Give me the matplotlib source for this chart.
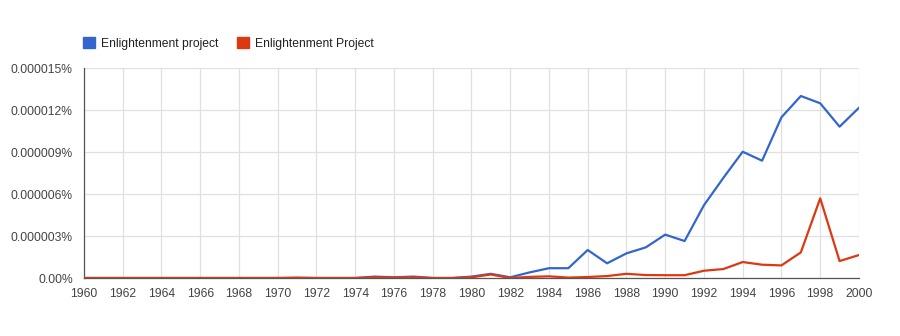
import matplotlib
matplotlib.use("Agg")
import matplotlib.pyplot as plt
from matplotlib.patches import Patch

plt.rcParams['font.family'] = ['Liberation Sans', 'DejaVu Sans']

years = list(range(1960, 2001))

# frequency, in units of 1e-6 percent
lower_case = [0, 0, 0, 0, 0, 0, 0, 0, 0, 0,
              0, 0, 0, 0, 0, 0.1, 0.05, 0.1, 0, 0,
              0.1, 0.3, 0.05, 0.4, 0.7, 0.7, 2.0, 1.05, 1.76, 2.19,
              3.1, 2.64, 5.2, 7.15, 9.02, 8.38, 11.48, 13.0, 12.48, 10.81,
              12.16]
upper_case = [0, 0, 0, 0, 0, 0, 0, 0, 0, 0,
              0, 0.03, 0, 0, 0, 0.05, 0.03, 0.05, 0, 0,
              0.05, 0.25, 0, 0.08, 0.12, 0.03, 0.07, 0.14, 0.3, 0.21,
              0.2, 0.2, 0.52, 0.64, 1.14, 0.95, 0.9, 1.83, 5.69, 1.21,
              1.64]

y_ticks = [0, 3, 6, 9, 12, 15]
y_labels = ['0.00%', '0.000003%', '0.000006%', '0.000009%', '0.000012%', '0.000015%']
x_ticks = list(range(1960, 2001, 2))

labels = ['Enlightenment project', 'Enlightenment Project']
colors = ['#3366cc', '#dc3912']

fig = plt.figure(figsize=(9, 3.36), dpi=100)
ax = fig.add_axes([0.0933, 0.1726, 0.8611, 0.625])

ax.plot(years, lower_case, color=colors[0], lw=1.6, zorder=3)
ax.plot(years, upper_case, color=colors[1], lw=1.6, zorder=4)

ax.set_xlim(1960, 2000)
ax.set_ylim(0, 15)
ax.set_xticks(x_ticks)
ax.set_yticks(y_ticks)
ax.set_yticklabels(y_labels)
ax.tick_params(length=0, labelsize=8.7, colors='#444444')
ax.tick_params(axis='y', pad=8)
ax.tick_params(axis='x', pad=7)

ax.grid(True, color='#e0e0e0', lw=0.9)
ax.set_axisbelow(True)
for side in ['top', 'right']:
    ax.spines[side].set_visible(False)
for side in ['left', 'bottom']:
    ax.spines[side].set_color('#555555')
    ax.spines[side].set_linewidth(0.9)

# square colour swatches for the legend
handles = [Patch(facecolor=c, edgecolor=c) for c in colors]
fig.legend(handles, labels, loc='upper left', bbox_to_anchor=(0.083, 0.915), ncol=2,
           frameon=False, fontsize=8.7, handlelength=1.0, handleheight=1.0,
           handletextpad=0.45, columnspacing=1.6, labelcolor='#222222',
           borderpad=0.2)

fig.savefig('out.png', dpi=100, facecolor='white')
